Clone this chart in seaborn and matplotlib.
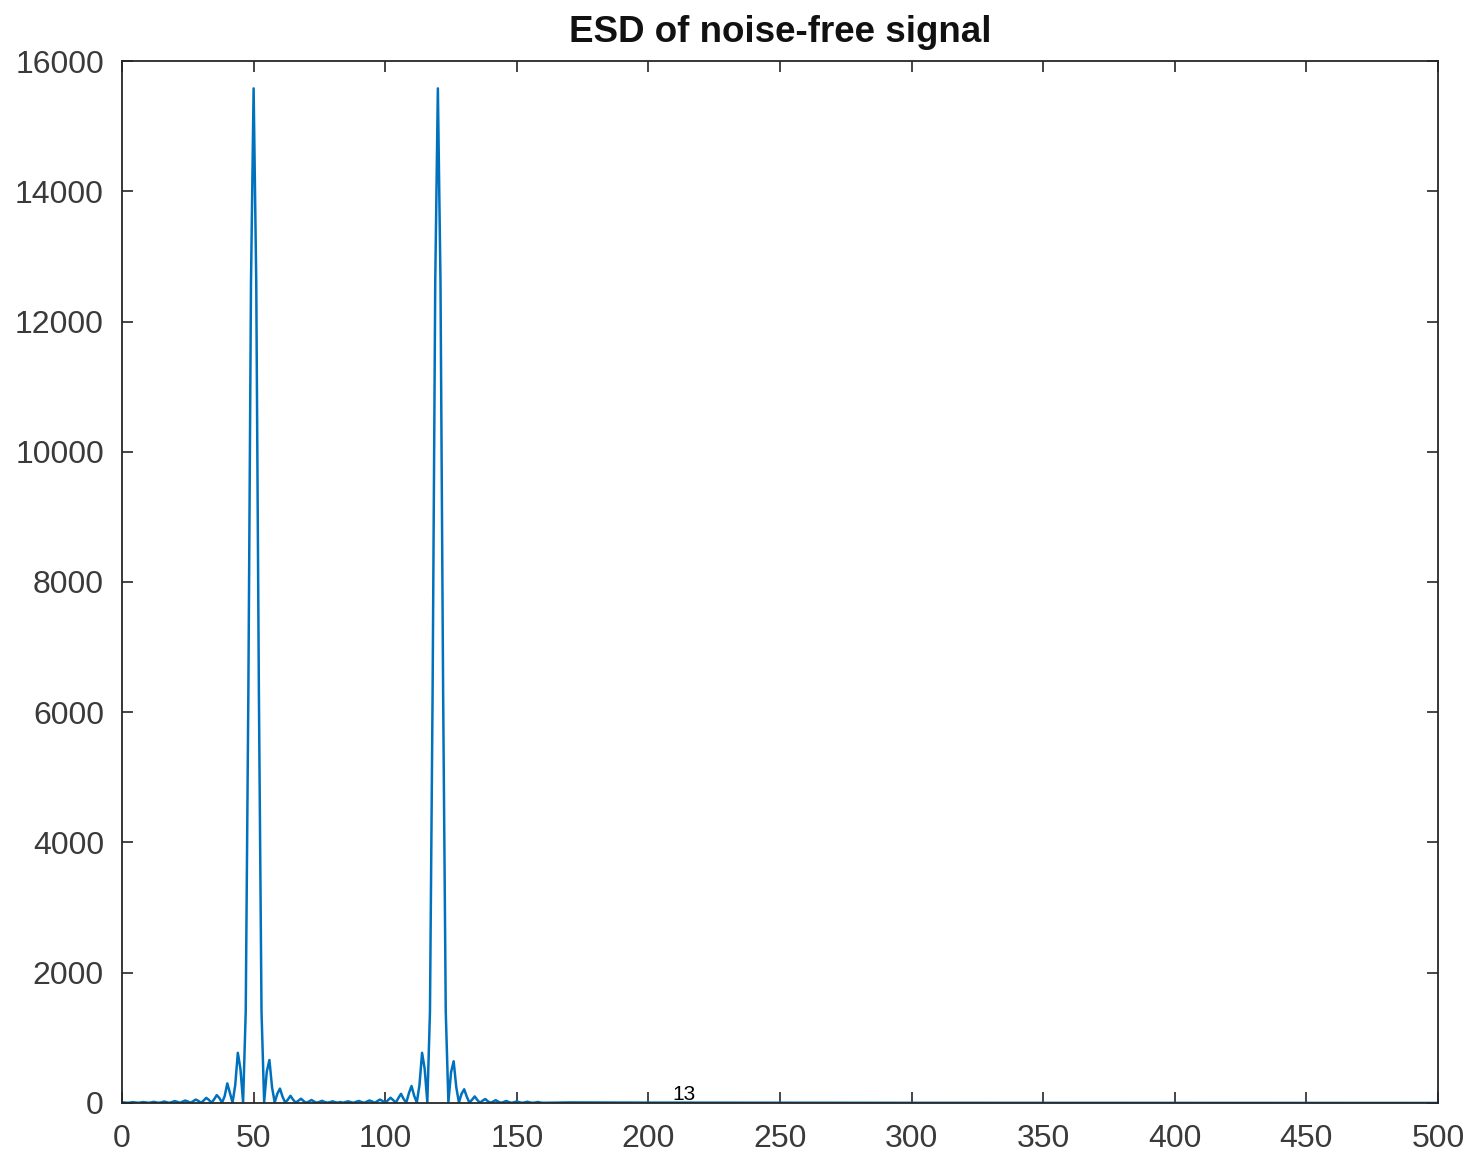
import matplotlib
matplotlib.use('Agg')
import matplotlib.pyplot as plt
import seaborn as sns
import pandas as pd

# frequency grid (Hz) and ESD values
freq = list(range(0, 161)) + [170, 200, 250, 300, 350, 400, 450, 500]

esd = [
    10, 6, 3, 5, 12, 7, 3, 6, 14, 8,            # 0-9
    3, 7, 17, 9, 3, 9, 22, 11, 2, 14,           # 10-19
    28, 17, 2, 19, 37, 23, 2, 25, 52, 32,       # 20-29
    2, 36, 78, 47, 3, 56, 120, 75, 4, 104,      # 30-39
    300, 156, 6, 270, 770, 520, 10, 1400, 6300, 12600,   # 40-49
    15580, 12600, 6300, 1400, 12, 480, 660, 240, 8, 140,  # 50-59
    220, 95, 5, 50, 110, 50, 4, 35, 65, 28,     # 60-69
    3, 22, 45, 20, 3, 16, 33, 14, 4, 12,        # 70-79
    25, 11, 5, 14, 3, 16, 24, 12, 2, 18,        # 80-89
    30, 14, 2, 20, 38, 22, 2, 28, 52, 30,       # 90-99
    3, 40, 80, 45, 4, 75, 140, 60, 5, 150,      # 100-109
    260, 110, 8, 270, 770, 520, 10, 1400, 6300, 12600,   # 110-119
    15580, 12600, 6300, 1400, 10, 470, 640, 240, 7, 140,  # 120-129
    210, 95, 4, 50, 100, 45, 3, 35, 60, 25,     # 130-139
    3, 20, 42, 18, 2, 15, 30, 13, 2, 11,        # 140-149
    24, 10, 2, 9, 19, 8, 2, 7, 15, 6,           # 150-159
    2,                                          # 160
    8, 5, 3, 2, 1, 1, 1, 0,                     # sparse tail
]

x_ticks = list(range(0, 501, 50))
y_ticks = list(range(0, 16001, 2000))

df = pd.DataFrame({'freq': freq, 'esd': esd})

sns.set_theme(style='white')
plt.rcParams['font.family'] = ['Liberation Sans', 'DejaVu Sans']

fig = plt.figure(figsize=(14.79, 11.56), dpi=100)
ax = fig.add_axes([0.0825, 0.0459, 0.8898, 0.9013])

sns.lineplot(data=df, x='freq', y='esd', ax=ax, color='#0072BD', linewidth=1.8)

ax.set_xlim(0, 500)
ax.set_ylim(0, 16000)
ax.set_xticks(x_ticks)
ax.set_yticks(y_ticks)
ax.set_xlabel('')
ax.set_ylabel('')

for side in ['top', 'right', 'bottom', 'left']:
    ax.spines[side].set_visible(True)
    ax.spines[side].set_color('#262626')
    ax.spines[side].set_linewidth(1.3)

ax.tick_params(axis='both', direction='in', length=8, width=1.2, color='#262626',
               labelsize=23, labelcolor='#3a3a3a', top=True, right=True,
               bottom=True, left=True)
ax.tick_params(axis='x', pad=15)
ax.tick_params(axis='y', pad=13)

ax.set_title('ESD of noise-free signal', fontsize=26.5, fontweight='bold', color='#111111', pad=14)

fig.text(684 / 1479, 1 - 1095 / 1156, '13', fontsize=15, color='black', ha='center', va='center')

fig.savefig('out.png', dpi=100)
